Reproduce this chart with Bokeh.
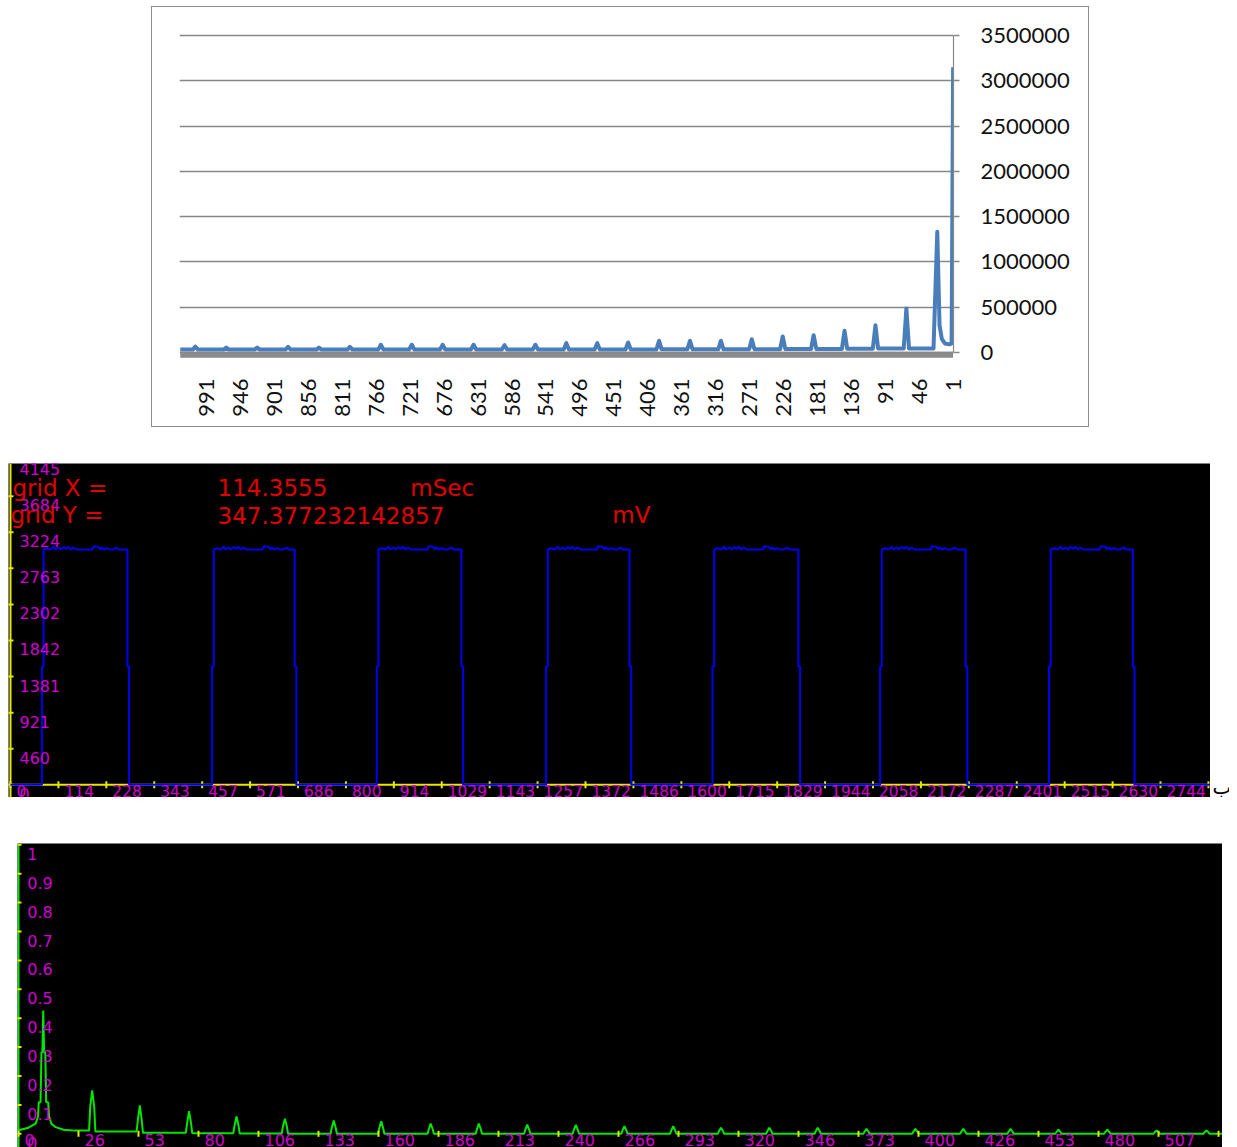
import math
from bokeh.plotting import figure
from bokeh.models import Range1d, FixedTicker, NumeralTickFormatter, Span, Spacer
from bokeh.layouts import column, row
from bokeh.core.properties import value
from bokeh.embed import file_html
from bokeh.resources import INLINE

# ---------------- top chart (spectrum, reversed category axis) ----------------
top_x_ticks = [1, 46, 91, 136, 181, 226, 271, 316, 361, 406, 451, 496, 541, 586,
               631, 676, 721, 766, 811, 856, 901, 946, 991]
top_y_ticks = [0, 500000, 1000000, 1500000, 2000000, 2500000, 3000000, 3500000]
top_peak_idx = [22, 63, 104, 145, 186, 227, 268, 309, 350, 391, 432, 473, 514,
                555, 596, 637, 678, 719, 760, 801, 842, 883, 924, 965, 1006]
top_peak_val = [1332000, 486000, 302000, 239000, 191000, 177000, 147000, 129000,
                129000, 129000, 110000, 103000, 103000, 85000, 81000, 85000, 85000,
                85000, 85000, 63000, 55000, 63000, 55000, 55000, 66000]
top_trough_val = [45000, 45000, 42000, 40000, 38000, 36000, 35000, 35000, 35000,
                  34000, 34000, 34000, 33000, 33000, 33000, 33000, 33000, 33000,
                  32000, 32000, 32000, 32000, 32000, 32000, 32000]
top_dc_idx = [1, 3, 6, 12, 16, 19]
top_dc_val = [3150000, 100000, 90000, 100000, 150000, 300000]
top_gray_idx = [1, 1026]
top_gray_val = [-25000, -25000]

# ---------------- middle chart (pulse train) ----------------
mid_y_ticks = [0, 460, 921, 1381, 1842, 2302, 2763, 3224, 3684, 4145]
mid_y_labels = ["0", "460", "921", "1381", "1842", "2302", "2763", "3224", "3684", "4145"]
mid_x_ticks = [0, 114.33, 228.67, 343, 457.33, 571.67, 686, 800.33, 914.67, 1029,
               1143.33, 1257.67, 1372, 1486.33, 1600.67, 1715, 1829.33, 1943.67,
               2058, 2172.33, 2286.67, 2401, 2515.33, 2629.67, 2744, 2858.33]
mid_x_labels = ["0", "114", "228", "343", "457", "571", "686", "800", "914", "1029",
                "1143", "1257", "1372", "1486", "1600", "1715", "1829", "1944",
                "2058", "2172", "2287", "2401", "2515", "2630", "2744"]
mid_rise = [77, 483, 876, 1280, 1677, 2077, 2480]
mid_fall = [281, 680, 1078, 1479, 1882, 2281, 2680]
mid_high = 3004
mid_step = 1510
mid_ripple_dx = [8, 16, 24, 28, 36, 41, 48, 53, 59, 65, 71, 78, 117, 120, 131,
                 135, 139, 144, 151, 157, 166, 174, 179]
mid_ripple_val = [3020, 3004, 3037, 3004, 3029, 3004, 3037, 3012, 3037, 3004, 3029,
                  3004, 3004, 3046, 3037, 3004, 3029, 3004, 3020, 3004, 3004, 3029, 3004]
mid_info_text = ["grid X =", "114.3555", "mSec", "grid Y =", "347.377232142857", "mV"]
mid_info_x = [4.8, 494, 954, 0, 494, 1436]
mid_info_y = [3791, 3791, 3791, 3438, 3438, 3438]

# ---------------- bottom chart (normalised spectrum) ----------------
bot_y_ticks = [0, 0.1, 0.2, 0.3, 0.4, 0.5, 0.6, 0.7, 0.8, 0.9, 1.0]
bot_y_labels = ["0", "0.1", "0.2", "0.3", "0.4", "0.5", "0.6", "0.7", "0.8", "0.9", "1"]
bot_x_ticks = [0, 26.67, 53.33, 80, 106.67, 133.33, 160, 186.67, 213.33, 240,
               266.67, 293.33, 320, 346.67, 373.33, 400, 426.67, 453.33, 480,
               506.67, 533.33]
bot_x_labels = ["0", "26", "53", "80", "106", "133", "160", "186", "213", "240",
                "266", "293", "320", "346", "373", "400", "426", "453", "480", "507"]
bot_first_x = [0, 4, 7.6, 8.7, 9.0, 9.8, 10.2, 10.6, 11.0, 11.4, 11.9, 12.3, 13.2,
               13.6, 14.6, 16.5, 20, 25]
bot_first_y = [0.012, 0.02, 0.035, 0.06, 0.109, 0.109, 0.282, 0.282, 0.427, 0.282,
               0.282, 0.109, 0.109, 0.06, 0.035, 0.023, 0.014, 0.011]
bot_peak_x = [32.76, 53.9, 75.8, 96.9, 118.4, 140.1, 161.2, 183.2, 204.6, 226.1,
              247.7, 269.3, 291.0, 312.2, 333.7, 355.2, 376.9, 398.6, 419.9, 440.9,
              462.2, 483.9, 505.8, 528.0]
bot_peak_top = [0.15, 0.098, 0.078, 0.06, 0.052, 0.046, 0.043, 0.035, 0.035, 0.032,
                0.031, 0.026, 0.026, 0.021, 0.021, 0.021, 0.017, 0.017, 0.017, 0.017,
                0.014, 0.014, 0.011, 0.011]
bot_peak_side = [0.092, 0.045, 0.035, 0.028, 0.024, 0.02, 0.018, 0.015, 0.015, 0.013,
                 0.013, 0.011, 0.011, 0.009, 0.009, 0.009, 0.007, 0.007, 0.007, 0.007,
                 0.006, 0.006, 0.005, 0.005]
bot_trough = [0.011, 0.008, 0.004, 0.002, 0.001, 0, 0, 0, 0, 0, 0, 0, 0, 0, 0, 0,
              0, 0, 0, 0, 0, 0, 0, 0, 0]

side_letter = ["ب"]

# ======================= build top chart =======================
tx, ty = list(top_dc_idx), list(top_dc_val)
tx += [top_peak_idx[0], top_peak_idx[0] + 5]
ty += [top_peak_val[0], top_trough_val[0]]
for k in range(1, len(top_peak_idx)):
    pk = top_peak_idx[k]
    tx += [pk - 3.5, pk, pk + 3.5]
    ty += [top_trough_val[k - 1], top_peak_val[k], top_trough_val[k]]
tx.append(1026)
ty.append(top_trough_val[-1])

p_top = figure(width=938, height=421, x_range=Range1d(1027, 0.5),
               y_range=Range1d(-88328, 3555205), y_axis_location="right",
               output_backend="svg", toolbar_location=None,
               min_border_left=27, min_border_right=137, min_border_top=23,
               min_border_bottom=68, background_fill_color="white",
               border_fill_color="white", outline_line_color=None)
p_top.styles = {"border": "1px solid #8c8c8c"}
p_top.xgrid.grid_line_color = None
p_top.ygrid.ticker = FixedTicker(ticks=top_y_ticks)
p_top.ygrid.grid_line_color = "#878787"
p_top.ygrid.grid_line_width = 1.6
p_top.yaxis.ticker = FixedTicker(ticks=top_y_ticks)
p_top.yaxis.formatter = NumeralTickFormatter(format="0")
p_top.yaxis.bounds = (0, 3500000)
p_top.yaxis.axis_line_color = "#878787"
p_top.yaxis.axis_line_width = 1.2
p_top.yaxis.major_tick_line_color = "#878787"
p_top.yaxis.major_tick_line_width = 1.6
p_top.yaxis.major_tick_out = 6
p_top.yaxis.major_tick_in = 0
p_top.yaxis.minor_tick_line_color = None
p_top.yaxis.major_label_standoff = 21
p_top.yaxis.major_label_text_font = "Lato"
p_top.yaxis.major_label_text_font_size = "22px"
p_top.yaxis.major_label_text_color = "#111111"
p_top.xaxis.ticker = FixedTicker(ticks=top_x_ticks)
p_top.xaxis.axis_line_color = None
p_top.xaxis.major_tick_line_color = None
p_top.xaxis.minor_tick_line_color = None
p_top.xaxis.major_label_orientation = math.pi / 2
p_top.xaxis.major_label_standoff = 12
p_top.xaxis.major_label_text_font = "Lato"
p_top.xaxis.major_label_text_font_size = "22px"
p_top.xaxis.major_label_text_color = "#111111"
p_top.line(top_gray_idx, top_gray_val, line_color="#8a8a8a", line_width=6)
p_top.line(tx, ty, line_color="#4a7ebb", line_width=4, line_join="round")

# ======================= build middle chart =======================
mx, my = [0], [0]
for r, f in zip(mid_rise, mid_fall):
    mx += [r - 2, r - 2, r + 2, r + 2]
    my += [0, mid_step, mid_step, mid_high]
    for dx, v in zip(mid_ripple_dx, mid_ripple_val):
        if r + 2 + dx < f - 2:
            mx.append(r + 2 + dx)
            my.append(v)
    mx += [f - 2, f - 2, f + 2, f + 2]
    my += [mid_high, mid_step, mid_step, 0]
mx.append(2863)
my.append(0)

MAG = "#d000d0"
YEL = "#e8e800"
p_mid = figure(width=1202, height=334, x_range=Range1d(-4.77, 2863.3),
               y_range=Range1d(-162.1, 4101.3), x_axis_location=None,
               y_axis_location=None, output_backend="svg", toolbar_location=None,
               background_fill_color="black", border_fill_color="black",
               outline_line_color=None)
p_mid.min_border = 0
p_mid.grid.visible = False
for sp in (Span(location=0, dimension="height", line_color=YEL, line_width=2, level="underlay"),
           Span(location=0, dimension="width", line_color=YEL, line_width=2, level="underlay")):
    p_mid.add_layout(sp)
p_mid.scatter([0] * len(mid_y_ticks), mid_y_ticks, marker="dash", size=6,
              line_color=YEL, line_width=2)
p_mid.scatter(mid_x_ticks, [0] * len(mid_x_ticks), marker="dash", size=7,
              angle=math.pi / 2, line_color=YEL, line_width=2)
p_mid.line(mx, my, line_color="#0000f0", line_width=2)
p_mid.text([0] * len(mid_y_ticks), mid_y_ticks, text=mid_y_labels,
           text_font=value("DejaVu Sans"), text_font_size="16px", text_color=MAG,
           text_align="left", text_baseline="top", x_offset=9, y_offset=3)
p_mid.text(mid_x_ticks[:len(mid_x_labels)], [0] * len(mid_x_labels), text=mid_x_labels,
           text_font=value("DejaVu Sans"), text_font_size="15.5px", text_color=MAG,
           text_align="left", text_baseline="top", x_offset=6, y_offset=0)
p_mid.text(mid_info_x, mid_info_y, text=mid_info_text, text_font=value("DejaVu Sans"),
           text_font_size="23px", text_color="#e00000", text_align="left",
           text_baseline="alphabetic")

p_letter = figure(width=19, height=334, x_range=Range1d(0, 1), y_range=Range1d(0, 1),
                  x_axis_location=None, y_axis_location=None, output_backend="svg",
                  toolbar_location=None, background_fill_color="white",
                  border_fill_color="white", outline_line_color=None)
p_letter.min_border = 0
p_letter.grid.visible = False
p_letter.text([0], [0.03], text=side_letter, text_font=value("DejaVu Sans"),
              text_font_size="20px", text_color="black", text_align="left",
              text_baseline="alphabetic", x_offset=2)

# ======================= build bottom chart =======================
bx, by = list(bot_first_x), list(bot_first_y)
for k, c in enumerate(bot_peak_x):
    bx += [c - 1.4, c - 0.9, c, c + 0.9, c + 1.4]
    by += [bot_trough[k], bot_peak_side[k], bot_peak_top[k], bot_peak_side[k], bot_trough[k + 1]]
bx.append(535)
by.append(0)

p_bot = figure(width=1205, height=304, x_range=Range1d(-0.444, 535.1),
               y_range=Range1d(-0.0474, 1.0045), x_axis_location=None,
               y_axis_location=None, output_backend="svg", toolbar_location=None,
               background_fill_color="black", border_fill_color="black",
               outline_line_color=None)
p_bot.min_border = 0
p_bot.grid.visible = False
p_bot.add_layout(Span(location=0, dimension="height", line_color="#00e600",
                      line_width=2, level="underlay"))
p_bot.line(bx, by, line_color="#00e600", line_width=2)
p_bot.scatter([0] * len(bot_y_ticks), bot_y_ticks, marker="dash", size=6,
              line_color=YEL, line_width=2)
p_bot.scatter(bot_x_ticks, [0] * len(bot_x_ticks), marker="dash", size=6,
              angle=math.pi / 2, line_color=YEL, line_width=2)
p_bot.text([0] * len(bot_y_ticks), bot_y_ticks, text=bot_y_labels,
           text_font=value("DejaVu Sans"), text_font_size="16px", text_color=MAG,
           text_align="left", text_baseline="top", x_offset=8.7, y_offset=3)
p_bot.text(bot_x_ticks[:len(bot_x_labels)], [0] * len(bot_x_labels), text=bot_x_labels,
           text_font=value("DejaVu Sans"), text_font_size="16px", text_color=MAG,
           text_align="left", text_baseline="top", x_offset=6, y_offset=0)

layout = column(
    Spacer(width=10, height=6),
    row(Spacer(width=151, height=421), p_top),
    Spacer(width=10, height=36),
    row(Spacer(width=8, height=334), p_mid, p_letter),
    Spacer(width=10, height=46),
    row(Spacer(width=17, height=304), p_bot),
)

open("out.html", "w").write(file_html(layout, INLINE))
